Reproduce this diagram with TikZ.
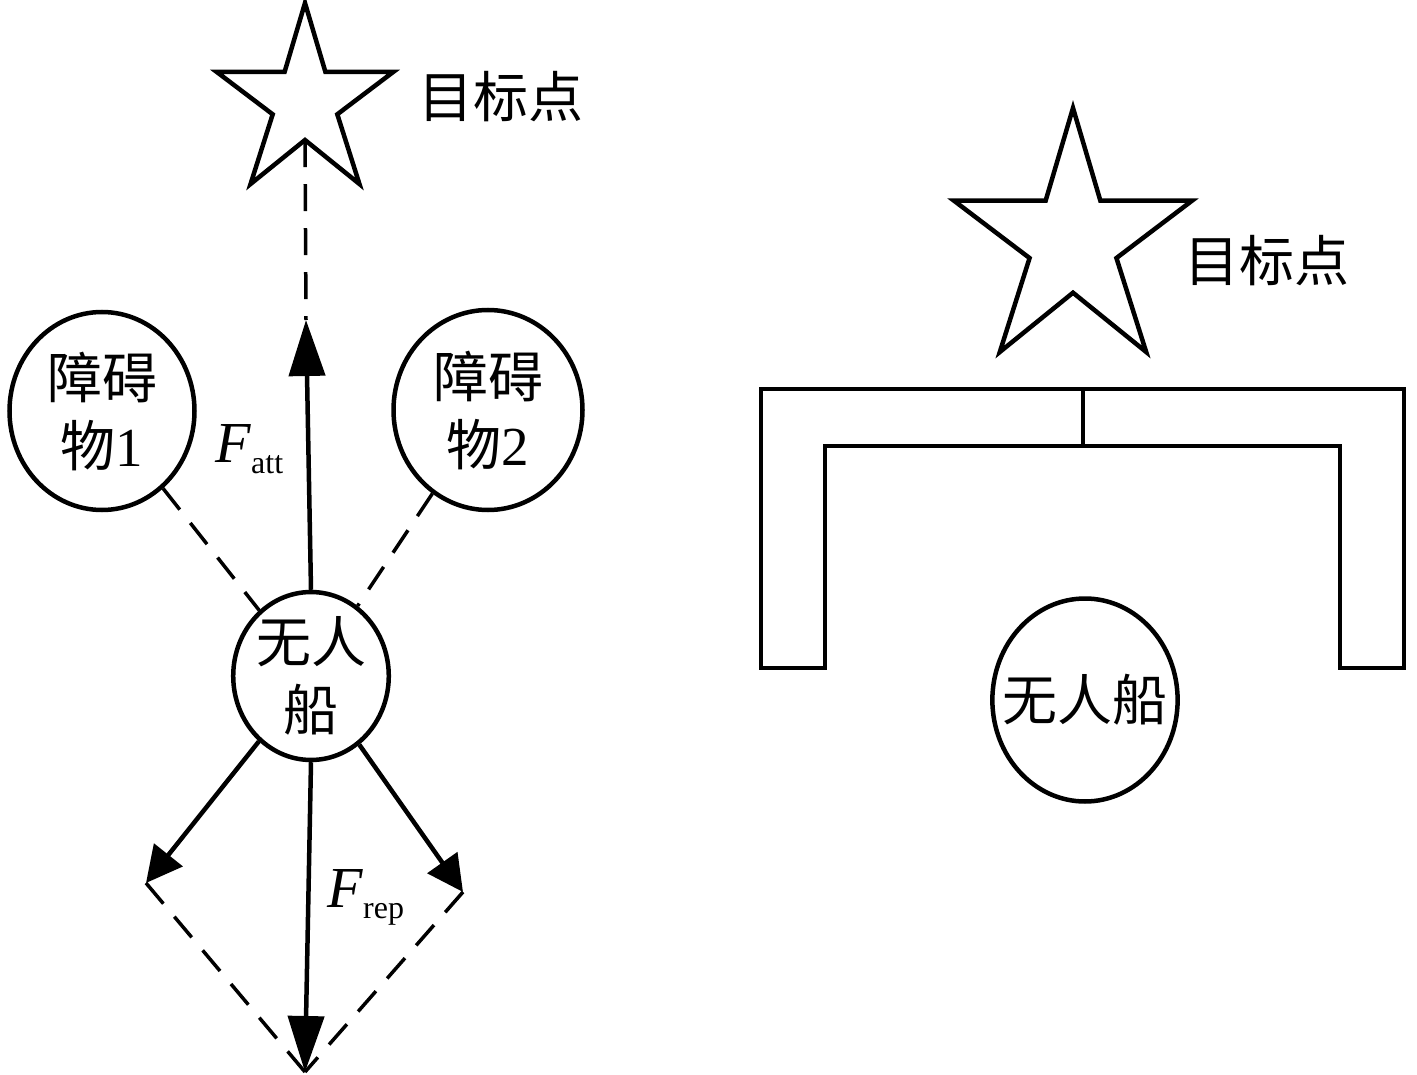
\documentclass[tikz,border=0pt]{standalone}
\usepackage{fontspec}
\setmainfont{Liberation Serif}
\newfontfamily\zhfont{Noto Sans CJK SC}
\newcommand{\zh}[1]{{\zhfont #1}}
\usetikzlibrary{arrows.meta, shapes.geometric}
\tikzset{
  every picture/.style={x=1pt, y=-1pt, line width=4.5pt},
  body/.style={draw, ellipse, inner sep=0pt, align=center, font=\fontsize{55}{68}\selectfont},
  force/.style={-{Triangle[length=56pt, width=36pt]}},
  force small/.style={-{Triangle[length=36pt, width=36pt]}},
  guide/.style={dash pattern=on 27pt off 17pt, line width=3.5pt},
  goaltext/.style={font=\fontsize{55}{60}\selectfont\zhfont, inner sep=0pt},
  flabel/.style={anchor=base west, inner sep=0pt, font=\fontsize{58}{60}\selectfont},
  goal star/.pic={
    \draw (0,0) -- (0.23,0.38) -- (1,0.38) -- (0.365,0.615) -- (0.615,1) -- (0,0.757)
      -- (-0.615,1) -- (-0.365,0.615) -- (-1,0.38) -- (-0.23,0.38) -- cycle;
    \coordinate (-in) at (0,0.757);
  },
}

\begin{document}
\begin{tikzpicture}
  \useasboundingbox (0,0) rectangle (1417,1075);
  % left: forces on the boat
  \pic[xscale=88.5, yscale=181] (goalL) at (305,3) {goal star};
  \node[goaltext] (goalLtext) at (501,97) {目标点};
  \node[body, minimum width=185pt, minimum height=198pt] (obs1) at (102,411) {\zh{障碍}\\\zh{物}1};
  \node[body, minimum width=189pt, minimum height=200pt] (obs2) at (488,410) {\zh{障碍}\\\zh{物}2};
  \node[body, minimum width=154pt, minimum height=166pt] (boatL) at (311,676) {\zh{无人}\\\zh{船}};
  \coordinate (attTip) at (306,320);
  \coordinate (repL) at (146,883);
  \coordinate (repR) at (463,892);
  \coordinate (repSum) at (305,1072);
  \draw[guide] (goalL-in) -- (attTip);
  \draw[force] (boatL.north) -- (attTip);
  \draw[guide] (obs1) -- (boatL);
  \draw[guide] (obs2) -- (boatL);
  \draw[force small] (boatL) -- (repL);
  \draw[force small] (boatL) -- (repR);
  \draw[force] (boatL.south) -- (repSum);
  \draw[guide] (repL) -- (repSum);
  \draw[guide] (repR) -- (repSum);
  \node[flabel] (fAtt) at (213,462) {\textit{F}\raisebox{-11pt}{\fontsize{32}{32}\selectfont att}};
  \node[flabel] (fRep) at (325,907) {\textit{F}\raisebox{-11pt}{\fontsize{32}{32}\selectfont rep}};

  % right: boat inside the U-shaped trap
  \pic[xscale=119, yscale=244] (goalR) at (1073,108) {goal star};
  \node[goaltext] (goalRtext) at (1267,261) {目标点};
  \draw (761,389) -- (1404,389) -- (1404,668) -- (1340,668) -- (1340,446)
    -- (825,446) -- (825,668) -- (761,668) -- cycle;
  \draw (1083,389) -- (1083,446);
  \node[body, inner xsep=-17pt, minimum width=185pt, minimum height=203pt] (boatR) at (1085,700) {\zh{无人船}};
\end{tikzpicture}
\end{document}
